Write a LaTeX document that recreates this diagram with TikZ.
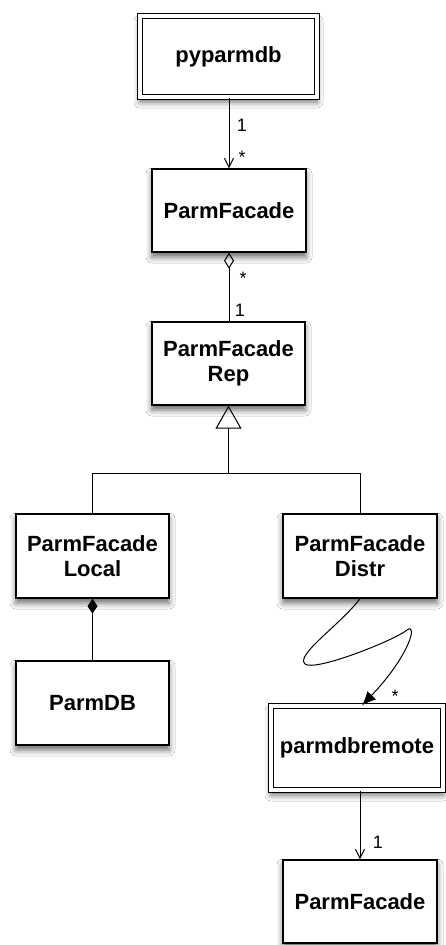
\documentclass[tikz,border=0pt]{standalone}
\usepackage{fontspec}
\setmainfont{Liberation Sans}
\usetikzlibrary{arrows.meta,shadows.blur}
\begin{document}
\begin{tikzpicture}[x=1pt,y=-1pt,
  cls/.style={draw=black, line width=1.4pt, fill=white, align=center,
    font=\bfseries\fontsize{22}{25}\selectfont, inner sep=0pt,
    minimum width=153pt, minimum height=83pt,
    blur shadow={shadow xshift=0pt, shadow yshift=-5pt, shadow blur radius=6pt, shadow opacity=60}},
  pkg/.style={cls, double, double distance=3.5pt, line width=1.1pt},
  conn/.style={draw=black, line width=1pt},
  mult/.style={font=\fontsize{18}{18}\selectfont, inner sep=0pt},
]
\useasboundingbox[fill=white] (0,0) rectangle (446,945);

% classes
\node[pkg, minimum width=177pt, minimum height=81pt] (py) at (228.5,56.5) {pyparmdb};
\node[cls, minimum width=154pt] (pf) at (229,210.5) {ParmFacade};
\node[cls] (rep) at (228.5,363.5) {ParmFacade\\Rep};
\node[cls, minimum height=84pt] (loc) at (92.5,556) {ParmFacade\\Local};
\node[cls, minimum width=154pt, minimum height=84pt] (dis) at (360,556) {ParmFacade\\Distr};
\node[cls, minimum height=84pt] (db) at (92.5,703) {ParmDB};
\node[pkg, minimum width=172pt, minimum height=84pt] (rem) at (357,748) {parmdbremote};
\node[cls, minimum width=154pt] (pf2) at (360,901.5) {ParmFacade};

% pyparmdb -> ParmFacade
\draw[conn, -{Straight Barb[length=9pt,width=9pt]}] (pf.north |- py.south) -- (pf.north);
\node[mult] (m1) at (242,125) {1};
\node[mult] (m2) at (242,157) {*};

% aggregation ParmFacade <>- Rep
\draw[conn, {Diamond[open,length=16pt,width=10pt]}-] (pf.south) -- (pf.south |- rep.north);
\node[mult] (m3) at (243,278) {*};
\node[mult] (m4) at (240,310) {1};

% generalization
\coordinate (j) at (228.5,473);
\coordinate (jl) at (92.5,473);
\coordinate (jr) at (360,473);
\draw[conn, -{Triangle[open,length=23pt,width=26pt]}] (j) -- (rep.south);
\draw[conn] (loc.north) -- (jl) -- (jr) -- (dis.north);

% composition Local <#>- ParmDB
\draw[conn, {Diamond[length=15pt,width=10pt]}-] (loc.south) -- (db.north);

% squiggle Distr -> parmdbremote
\coordinate (tip) at ([xshift=5pt]rem.north);
\draw[conn, -{Latex[length=14pt,width=12pt]}] (dis.south)
  .. controls (340,625) and (295,655) .. (305,664)
  .. controls (315,672) and (395,640) .. (407,630)
  .. controls (418,622) and (410,655) .. (tip);
\node[mult] (m5) at (395,696) {*};

% parmdbremote -> ParmFacade
\draw[conn, -{Straight Barb[length=9pt,width=9pt]}] (pf2.north |- rem.south) -- (pf2.north);
\node[mult] (m6) at (378,842) {1};
\end{tikzpicture}
\end{document}
